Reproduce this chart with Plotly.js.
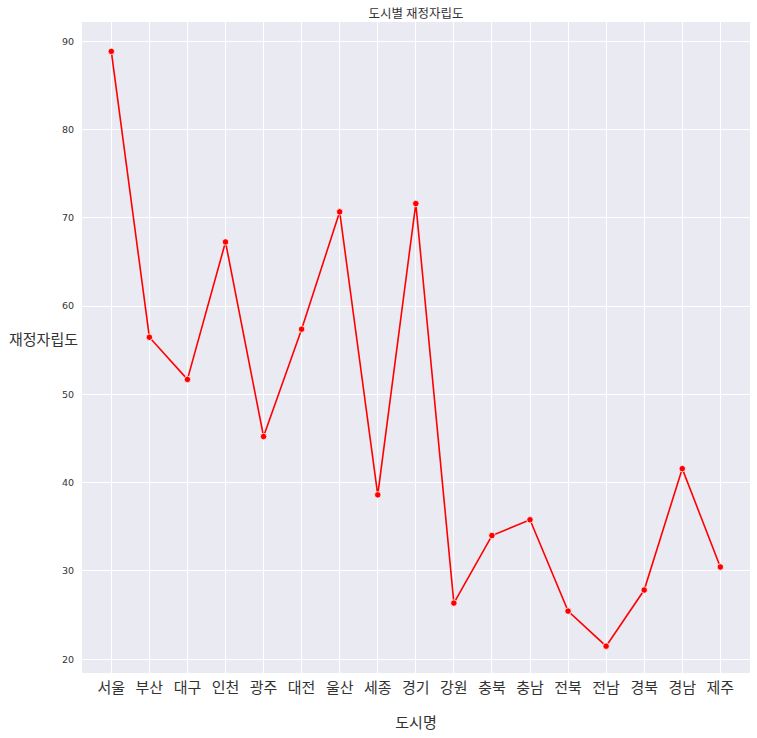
<!DOCTYPE html>
<html>
<head>
<meta charset="utf-8">
<script src="https://cdn.plot.ly/plotly-3.0.1.min.js"></script>
<style>html,body{margin:0;padding:0;background:#fff}#chart{width:757px;height:738px}</style>
</head>
<body>
<div id="chart"></div>
<script>
const cities = ['서울','부산','대구','인천','광주','대전','울산','세종','경기','강원','충북','충남','전북','전남','경북','경남','제주'];
const selfReliance = [88.86, 56.48, 51.70, 67.27, 45.23, 57.39, 70.68, 38.62, 71.62, 26.36, 34.01, 35.80, 25.45, 21.48, 27.84, 41.59, 30.45];
const yTicks = [20, 30, 40, 50, 60, 70, 80, 90];

const kfont = '"Noto Sans CJK KR", "Noto Sans", sans-serif';

const trace = {
  x: cities,
  y: selfReliance,
  type: 'scatter',
  mode: 'lines+markers',
  line: {color: '#ff0000', width: 1.6},
  marker: {color: '#ff0000', size: 6.5, line: {color: '#ffffff', width: 0.8}},
  hoverinfo: 'x+y'
};

const layout = {
  width: 757, height: 738,
  margin: {l: 82, r: 7, t: 22, b: 65},
  paper_bgcolor: '#ffffff',
  plot_bgcolor: '#EAEAF2',
  showlegend: false,
  title: {text: '도시별 재정자립도', font: {family: kfont, size: 12.5, color: '#333333'}, x: 0.5, xref: 'paper', xanchor: 'center', y: 1, yref: 'paper', yanchor: 'bottom', pad: {b: 4}},
  xaxis: {
    type: 'category',
    range: [-0.77, 16.78],
    showgrid: true, gridcolor: '#ffffff', gridwidth: 1,
    zeroline: false, showline: false, ticks: '',
    tickfont: {family: kfont, size: 15, color: '#333333'},
    ticklabelstandoff: 4,
    title: {text: '도시명', font: {family: kfont, size: 15, color: '#333333'}, standoff: 21}
  },
  yaxis: {
    range: [18.44, 92.19],
    tickvals: yTicks,
    showgrid: true, gridcolor: '#ffffff', gridwidth: 1,
    zeroline: false, showline: false, ticks: '',
    tickfont: {family: 'DejaVu Sans, sans-serif', size: 9.5, color: '#333333'},
    ticklabelstandoff: 7
  },
  annotations: [{
    text: '재정자립도', xref: 'paper', yref: 'paper', x: -0.112, y: 0.514,
    xanchor: 'left', yanchor: 'middle', showarrow: false,
    font: {family: kfont, size: 15, color: '#333333'}
  }]
};

Plotly.newPlot('chart', [trace], layout, {displayModeBar: false, staticPlot: true});
</script>
</body>
</html>
